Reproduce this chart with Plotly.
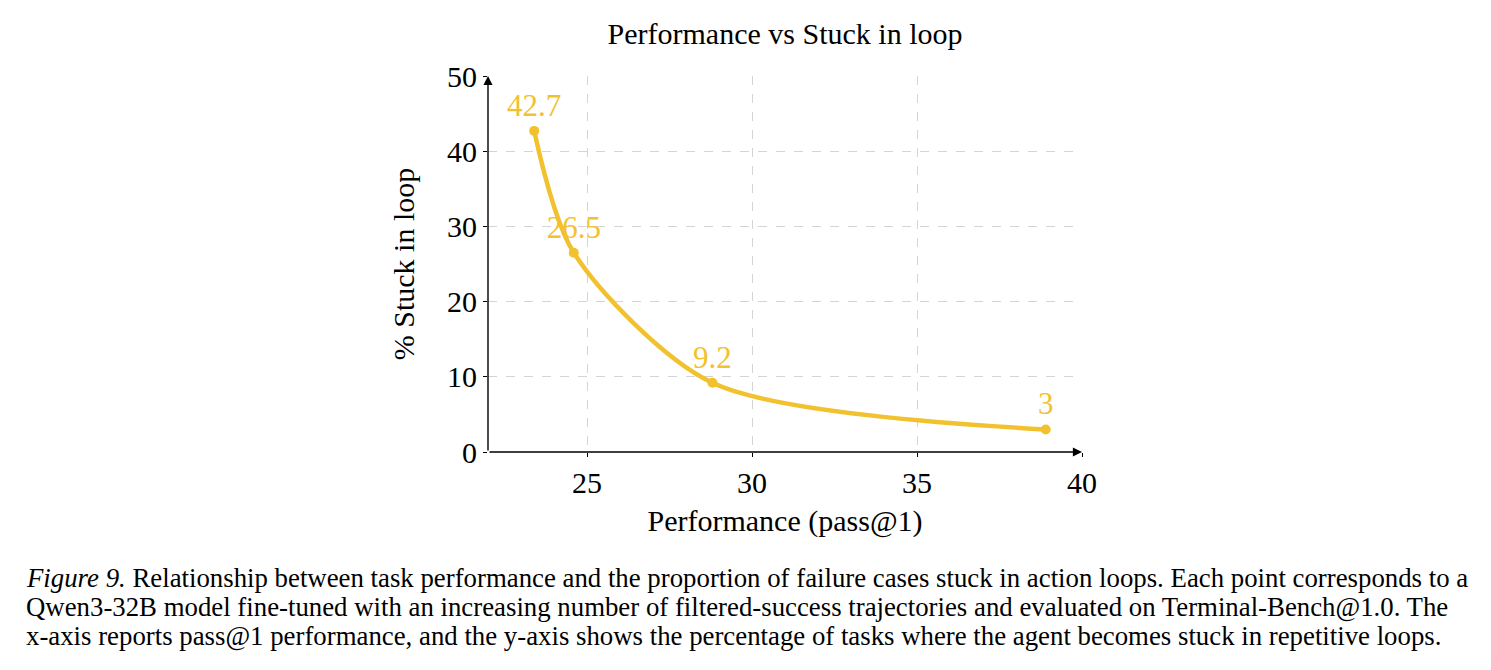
import plotly.graph_objects as go

performance = [23.4, 24.6, 28.8, 38.9]
stuck_pct = [42.7, 26.5, 9.2, 3.0]
point_labels = ["42.7", "26.5", "9.2", "3"]
x_ticks = [25, 30, 35, 40]
y_ticks = [0, 10, 20, 30, 40, 50]

caption_lines = [
    "<i>Figure 9.</i> Relationship between task performance and the proportion of failure cases stuck in action loops. Each point corresponds to a",
    "Qwen3-32B model fine-tuned with an increasing number of filtered-success trajectories and evaluated on Terminal-Bench@1.0. The",
    "x-axis reports pass@1 performance, and the y-axis shows the percentage of tasks where the agent becomes stuck in repetitive loops.",
]

GOLD = "#F2C12E"
FONT = "Liberation Serif, Times New Roman, serif"

W, H = 1491, 670
L, R, T, B = 488, 1082, 76, 452

fig = go.Figure()
fig.add_trace(go.Scatter(
    x=performance, y=stuck_pct, mode="lines+markers+text",
    line=dict(color=GOLD, width=4.5, shape="spline", smoothing=0.8),
    marker=dict(color=GOLD, size=10),
    text=point_labels, textposition="top center",
    textfont=dict(color=GOLD, size=31, family=FONT),
    cliponaxis=False, showlegend=False,
))

# axis arrows
fig.add_annotation(x=40, y=0, ax=22, ay=0, xref="x", yref="y", axref="x", ayref="y",
                   text="", showarrow=True, arrowhead=2, arrowsize=1.3, arrowwidth=1.4, arrowcolor="black")
fig.add_annotation(x=22, y=50, ax=22, ay=0, xref="x", yref="y", axref="x", ayref="y",
                   text="", showarrow=True, arrowhead=2, arrowsize=1.3, arrowwidth=1.4, arrowcolor="black")

pw = R - L
ph = B - T
for i, line in enumerate(caption_lines):
    ypix = 578 + 29 * i
    fig.add_annotation(
        x=(24 - L) / pw, y=(B - ypix) / ph, xref="paper", yref="paper",
        xanchor="left", yanchor="middle", text=line, showarrow=False,
        font=dict(family=FONT, size=26.8, color="black"), align="left",
    )

fig.update_layout(
    width=W, height=H,
    margin=dict(l=L, r=W - R, t=T, b=H - B),
    paper_bgcolor="white", plot_bgcolor="white",
    font=dict(family=FONT, color="black", size=30),
    title=dict(text="Performance vs Stuck in loop", x=(L + R) / 2 / W, xanchor="center",
               y=1 - 33 / H, yanchor="middle", font=dict(size=30, family=FONT)),
    xaxis=dict(range=[22, 40], tickvals=x_ticks, showgrid=True, gridcolor="#d4d4d4",
               griddash="dash", gridwidth=1, zeroline=False, showline=False,
               ticks="outside", ticklen=4, tickcolor="black", tickfont=dict(size=30),
               title=dict(text="Performance (pass@1)", standoff=11, font=dict(size=30))),
    yaxis=dict(range=[0, 50], tickvals=y_ticks, showgrid=True, gridcolor="#d4d4d4",
               griddash="dash", gridwidth=1, zeroline=False, showline=False,
               ticks="outside", ticklen=4, tickcolor="black", tickfont=dict(size=30),
               title=dict(text="% Stuck in loop", standoff=23, font=dict(size=30))),
)

fig.write_html("out.html")
